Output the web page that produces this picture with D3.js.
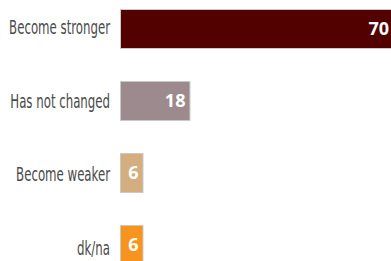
<!DOCTYPE html>
<html>
<head>
<meta charset="utf-8">
<script src="https://cdn.jsdelivr.net/npm/d3@7"></script>
<style>
  html, body { margin: 0; padding: 0; background: #fff; }
  svg { display: block; }
</style>
</head>
<body>
<svg id="chart" width="391" height="261"></svg>
<script>
const categories = ["Become stronger", "Has not changed", "Become weaker", "dk/na"];
const values = [70, 18, 6, 6];
const colors = ["#520000", "#9c8a8e", "#d4ae7e", "#f7941d"];

const svg = d3.select("#chart");

const x = d3.scaleLinear().domain([0, 70]).range([120, 394]);
const y = d3.scaleBand().domain(categories).range([9, 265]).paddingInner(32 / 72).paddingOuter(0);
const labelY = d3.scalePoint().domain(categories).range([34, 255]);

const data = categories.map((c, i) => ({ cat: c, value: values[i], color: colors[i] }));

svg.selectAll("rect.bar")
  .data(data)
  .join("rect")
  .attr("class", "bar")
  .attr("x", x(0) + 0.5)
  .attr("y", d => y(d.cat) + 0.5)
  .attr("width", d => x(d.value) - x(0) - 1)
  .attr("height", y.bandwidth() - 1)
  .attr("fill", d => d.color)
  .attr("stroke", "#c9c9c9")
  .attr("stroke-width", 1);

// category labels (condensed look via horizontal scaling)
const labels = svg.append("g").selectAll("text.cat")
  .data(data)
  .join("text")
  .attr("class", "cat")
  .attr("text-anchor", "end")
  .attr("font-family", "'Liberation Sans Narrow', 'DejaVu Sans Condensed', 'Liberation Sans', sans-serif")
  .attr("font-size", 19)
  .attr("fill", "#4a4a4a")
  .text(d => d.cat);

const targetWidth = 101; // width of the widest label in the reference
const widest = d3.max(labels.nodes(), n => n.getComputedTextLength());
const sx = targetWidth / widest;
labels.attr("transform", d => `translate(110, ${labelY(d.cat)}) scale(${sx}, 1)`);

// value labels
svg.selectAll("text.val")
  .data(data)
  .join("text")
  .attr("class", "val")
  .attr("x", d => x(d.value) - 5)
  .attr("y", d => y(d.cat) + y.bandwidth() / 2)
  .attr("dy", "0.35em")
  .attr("text-anchor", "end")
  .attr("font-family", "'Open Sans', sans-serif")
  .attr("font-weight", 700)
  .attr("font-size", 18)
  .attr("fill", "#ffffff")
  .text(d => d.value);
</script>
</body>
</html>
